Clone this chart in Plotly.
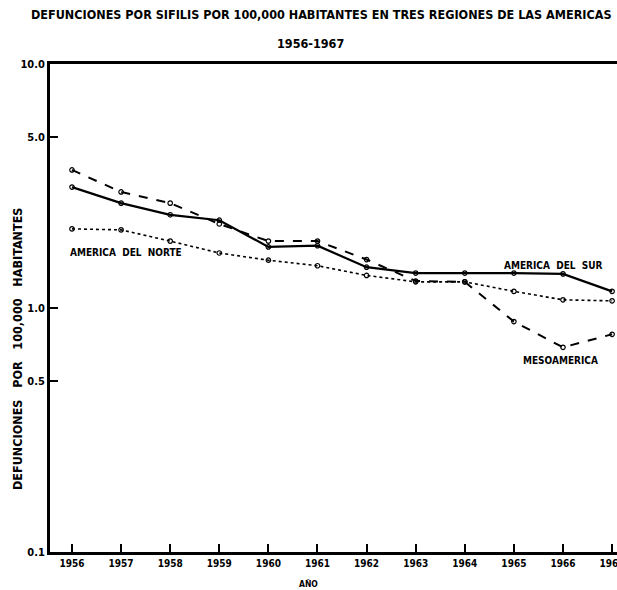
import numpy as np
import plotly.graph_objects as go

years = [1956, 1957, 1958, 1959, 1960, 1961, 1962, 1963, 1964, 1965, 1966, 1967]
america_del_sur = [3.13, 2.69, 2.41, 2.29, 1.78, 1.80, 1.47, 1.39, 1.39, 1.39, 1.38, 1.17]
mesoamerica = [3.68, 2.99, 2.69, 2.21, 1.88, 1.88, 1.58, 1.29, 1.28, 0.88, 0.69, 0.78]
america_del_norte = [2.11, 2.09, 1.88, 1.68, 1.57, 1.49, 1.36, 1.28, 1.28, 1.17, 1.08, 1.07]

y_ticks = [0.1, 0.5, 1.0, 5.0, 10.0]
y_tick_labels = ["0.1", "0.5", "1.0", "5.0", "10.0"]
x_tick_labels = [str(y) for y in years]

FONT = "DejaVu Sans Condensed"
fig = go.Figure()

marker = dict(symbol="circle-open", size=4.5, color="black", line=dict(width=1.2, color="black"))

fig.add_trace(go.Scatter(x=years, y=america_del_norte, mode="lines+markers",
                         line=dict(color="black", width=1.6, dash="dot"), marker=marker,
                         name="AMERICA DEL NORTE", cliponaxis=False))
fig.add_trace(go.Scatter(x=years, y=mesoamerica, mode="lines+markers",
                         line=dict(color="black", width=2, dash="dash"), marker=marker,
                         name="MESOAMERICA", cliponaxis=False))
fig.add_trace(go.Scatter(x=years, y=america_del_sur, mode="lines+markers",
                         line=dict(color="black", width=2.2), marker=marker,
                         name="AMERICA DEL SUR", cliponaxis=False))

lab_font = dict(family=FONT, size=10, color="black", weight="bold")
fig.add_annotation(x=1955.92, y=np.log10(1.696), xref="x", yref="y",
                   text="AMERICA&nbsp; DEL&nbsp; NORTE",
                   showarrow=False, xanchor="left", yanchor="middle", font=lab_font)
fig.add_annotation(x=1966.86, y=0.176, xref="x", yref="y",
                   text="AMERICA&nbsp; DEL&nbsp; SUR",
                   showarrow=False, xanchor="right", yanchor="middle", font=lab_font)
fig.add_annotation(x=1966.76, y=-0.217, xref="x", yref="y", text="MESOAMERICA",
                   showarrow=False, xanchor="right", yanchor="middle", font=lab_font)

title_font = dict(family=FONT, size=12.5, color="black", weight="bold")
fig.add_annotation(x=(321 - 50) / 567, y=1 + (64 - 15) / 488, xref="paper", yref="paper",
                   text="DEFUNCIONES POR SIFILIS POR 100,000 HABITANTES EN TRES REGIONES DE LAS AMERICAS",
                   showarrow=False, xanchor="center", yanchor="middle", font=title_font)
fig.add_annotation(x=(310 - 50) / 567, y=1 + (64 - 43) / 488, xref="paper", yref="paper",
                   text="1956-1967",
                   showarrow=False, xanchor="center", yanchor="middle", font=title_font)
fig.add_annotation(x=(17 - 50) / 567, y=(552 - 349) / 488, xref="paper", yref="paper",
                   text="DEFUNCIONES&nbsp;&nbsp; POR&nbsp;&nbsp; 100,000&nbsp;&nbsp; HABITANTES",
                   textangle=-90,
                   showarrow=False, xanchor="center", yanchor="middle",
                   font=dict(family=FONT, size=12.5, color="black", weight="bold"))
fig.add_annotation(x=(308 - 50) / 567, y=-(584 - 552) / 488, xref="paper", yref="paper",
                   text="AÑO", showarrow=False, xanchor="center", yanchor="middle",
                   font=dict(family=FONT, size=8.5, color="black", weight="bold"))

fig.update_layout(
    template="none",
    width=617, height=590,
    margin=dict(l=50, r=0, t=64, b=38, autoexpand=False),
    paper_bgcolor="white", plot_bgcolor="white",
    showlegend=False,
    xaxis=dict(range=[1955.552, 1967.1], tickvals=years, ticktext=x_tick_labels,
               showgrid=False, zeroline=False, showline=True, linecolor="black", linewidth=3,
               mirror=True, ticks="inside", ticklen=8, tickwidth=1.5, tickcolor="black",
               automargin=False, ticklabeloverflow="allow",
               tickfont=dict(family=FONT, size=10, color="black", weight="bold")),
    yaxis=dict(type="log", range=[-1, 1], tickvals=y_ticks, ticktext=y_tick_labels,
               showgrid=False, zeroline=False, showline=True, linecolor="black", linewidth=3,
               ticks="inside", ticklen=8, tickwidth=1.5, tickcolor="black",
               automargin=False,
               tickfont=dict(family=FONT, size=11, color="black", weight="bold")),
)

fig.write_html("out.html", config={"displayModeBar": False},
               post_script="document.body.style.margin='0';")
